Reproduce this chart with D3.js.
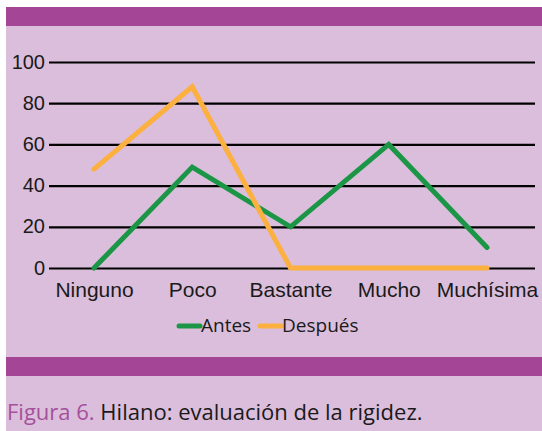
<!DOCTYPE html>
<html>
<head>
<meta charset="utf-8">
<script src="https://cdn.jsdelivr.net/npm/d3@7"></script>
<style>
  body { margin: 0; background: #fff; }
  svg { display: block; font-family: "Open Sans", "Noto Sans", sans-serif; }
</style>
</head>
<body>
<script>
// data
var categories = ["Ninguno", "Poco", "Bastante", "Mucho", "Muchísima"];
var antes = [0, 49, 20, 60, 10];
var despues = [48, 88, 0, 0, 0];
var yTicks = [0, 20, 40, 60, 80, 100];

var W = 542, H = 431;
var svg = d3.select("body").append("svg")
    .attr("width", W)
    .attr("height", H);

// background panels
svg.append("rect").attr("x", 6).attr("y", 7).attr("width", W - 6).attr("height", H - 7)
    .attr("fill", "#dbbedb");
svg.append("rect").attr("x", 6).attr("y", 7).attr("width", W - 6).attr("height", 19)
    .attr("fill", "#a54595");
svg.append("rect").attr("x", 6).attr("y", 357).attr("width", W - 6).attr("height", 19)
    .attr("fill", "#a54595");

var x = d3.scalePoint()
    .domain(categories)
    .range([94, 487]);
var y = d3.scaleLinear()
    .domain([0, 100])
    .range([268, 62]);

// gridlines + y labels
var yAxis = d3.axisLeft(y)
    .tickValues(yTicks)
    .tickSize(-(535 - 49))
    .tickPadding(6);
var gy = svg.append("g")
    .attr("transform", "translate(49,0)")
    .call(yAxis);
gy.select(".domain").remove();
gy.selectAll(".tick line").attr("stroke", "#000").attr("stroke-width", 2.2);
gy.selectAll(".tick text")
    .attr("fill", "#1a1a1a")
    .style("font-size", "20px")
    .attr("x", -4)
    .attr("dy", "0.3em");

// x labels
var xAxis = d3.axisBottom(x).tickSize(0).tickPadding(0);
var gx = svg.append("g")
    .attr("transform", "translate(0,297)")
    .call(xAxis);
gx.select(".domain").remove();
gx.selectAll(".tick text")
    .attr("fill", "#1a1a1a")
    .attr("y", 0)
    .attr("dy", 0)
    .style("font-size", "21px");

var line = d3.line()
    .x(function(d, i) { return x(categories[i]); })
    .y(function(d) { return y(d); });

var series = [
    { name: "Antes", values: antes, color: "#1b9646" },
    { name: "Después", values: despues, color: "#fbb040" }
];

svg.selectAll(".serie")
    .data(series)
    .enter().append("path")
    .attr("class", "serie")
    .attr("d", function(d) { return line(d.values); })
    .attr("fill", "none")
    .attr("stroke", function(d) { return d.color; })
    .attr("stroke-width", 5)
    .attr("stroke-linejoin", "miter")
    .attr("stroke-linecap", "round");

// legend
var legend = svg.append("g").attr("transform", "translate(0,326)");
var lx = [179, 260];
series.forEach(function(s, i) {
    legend.append("line")
        .attr("x1", lx[i]).attr("x2", lx[i] + 21)
        .attr("y1", 0).attr("y2", 0)
        .attr("stroke", s.color)
        .attr("stroke-width", 5)
        .attr("stroke-linecap", "round");
    legend.append("text")
        .attr("x", lx[i] + 22)
        .attr("y", 6)
        .attr("fill", "#1a1a1a")
        .style("font-size", "19px")
        .text(s.name);
});

// caption
var cap = svg.append("text")
    .attr("x", 7)
    .attr("y", 420)
    .style("font-size", "22px");
cap.append("tspan").attr("fill", "#a5509c").text("Figura 6.");
cap.append("tspan").attr("fill", "#1a1a1a").text(" Hilano: evaluación de la rigidez.");
</script>
</body>
</html>
